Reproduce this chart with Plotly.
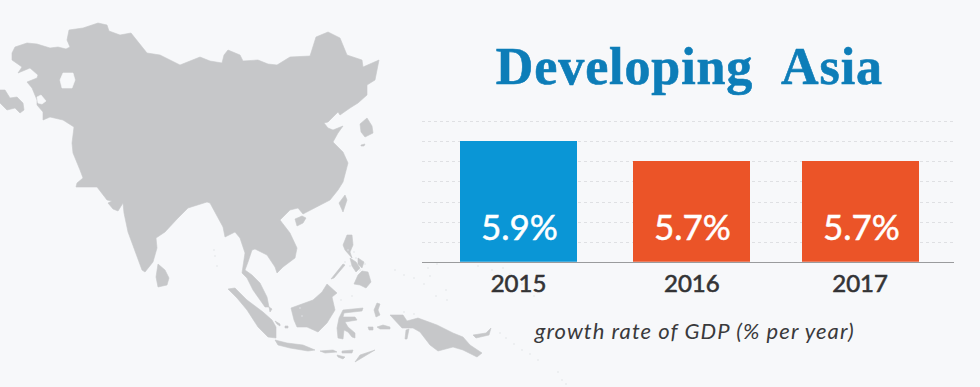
import plotly.graph_objects as go

# ---- chart data ----
years = ["2015", "2016", "2017"]
growth = [5.9, 5.7, 5.7]
bar_colors = ["#0a96d6", "#eb5428", "#eb5428"]
title_text = "Developing\u00a0\u00a0Asia"
caption_text = "growth rate of GDP (% per year)"

# slots of the three bars on the (slightly uneven) horizontal axis
slots = [0, 1.015, 2]

# ---- decorative silhouette, traced outlines in picture pixels ----
mainland = [(12,60),(12,53),(15,47),(27,43),(37,44),(50,48),(58,47),(66,49),(70,47),(67,40),(69,30),(83,28),(98,23),(107,25),(109,31),(120,35),(131,33),(138,42),(147,53),(160,55),(170,60),(180,65),(190,61),(200,57),(210,61),(222,63),(224,55),(228,50),(240,55),(243,61),(258,60),(268,64),(277,65),(290,57),(310,56),(312,50),(316,37),(328,32),(340,38),(347,55),(362,60),(363,67),(379,60),(375,80),(367,85),(367,95),(358,103),(350,108),(340,115),(338,112),(328,122),(324,123),(328,128),(333,130),(343,126),(338,133),(333,142),(343,152),(348,163),(343,182),(338,190),(330,200),(317,207),(303,214),(298,208),(290,210),(280,220),(290,233),(297,248),(295,258),(283,267),(277,273),(275,267),(267,255),(255,249),(252,250),(248,262),(245,270),(252,275),(260,283),(267,297),(269,307),(265,307),(253,290),(247,278),(242,273),(245,253),(240,238),(235,232),(225,237),(223,227),(215,212),(210,203),(207,202),(188,208),(178,218),(165,232),(156,238),(157,248),(153,262),(145,272),(142,270),(135,252),(128,232),(124,213),(123,203),(118,211),(113,209),(108,203),(112,201),(107,200),(102,193),(97,187),(87,187),(76,187),(77,183),(83,178),(80,170),(73,153),(72,143),(74,127),(63,120),(50,117),(43,120),(43,112),(37,105),(37,100),(32,88),(27,82),(37,78),(38,75),(30,68),(18,73),(22,67)]
turkey = [(0,90),(5,90),(10,98),(17,97),(23,103),(24,110),(20,113),(15,108),(7,110),(0,103)]
korea = [(360,124),(367,118),(372,126),(373,133),(365,137),(361,132)]
jeju = [(361,145),(365,144),(364,146),(361,146)]
hainan = [(295,219),(302,216),(306,218),(303,223),(297,226)]
taiwan = [(345,195),(347,200),(343,212),(339,203)]
sri_lanka = [(158,264),(165,270),(169,278),(167,285),(158,287),(156,277)]
luzon = [(347,235),(352,235),(353,245),(350,252),(352,258),(345,250),(343,245)]
visayas_a = [(350,258),(356,262),(360,268),(356,272),(352,266)]
visayas_b = [(358,258),(364,262),(362,268),(358,264)]
mindanao = [(358,275),(362,271),(368,272),(371,282),(366,288),(360,285),(354,284)]
palawan = [(343,264),(345,265),(334,278),(331,279)]
malaya_islet = [(269,307),(272,309),(270,312)]
sumatra = [(228,289),(235,288),(247,300),(263,312),(272,320),(276,327),(276,338),(268,337),(258,327),(247,310),(237,298)]
borneo = [(327,284),(337,293),(332,297),(335,310),(327,323),(318,332),(307,327),(297,327),(294,320),(291,308),(302,304),(313,300),(322,292)]
java = [(275,340),(287,343),(303,345),(315,350),(308,351),(290,348),(278,345)]
bali_lombok = [(320,351),(333,350),(337,352),(325,353)]
flores = [(342,351),(353,350),(352,353),(342,353)]
sumba = [(337,355),(345,357),(343,359),(338,357)]
timor = [(375,350),(367,355),(355,362),(360,355)]
bangka = [(275,321),(280,324),(280,326),(277,324)]
belitung = [(285,326),(288,326),(288,328),(285,328)]
sulawesi = [(363,308),(343,310),(339,318),(337,328),(338,338),(343,339),(344,330),(348,332),(352,337),(355,338),(355,333),(348,327),(345,322),(357,320),(355,317),(343,317),(344,313),(362,311)]
halmahera = [(377,303),(380,304),(378,310),(380,315),(376,317),(374,310)]
ceram = [(377,327),(383,325),(390,327),(390,329),(380,329)]
buru = [(368,327),(373,327),(373,330),(369,330)]
new_guinea = [(390,315),(403,315),(407,321),(418,318),(437,325),(453,333),(463,337),(470,345),(482,353),(477,357),(463,350),(453,347),(438,351),(430,345),(420,332),(413,328),(402,328),(396,321)]
aru = [(406,330),(409,329),(407,339),(405,339)]
new_britain = [(473,335),(486,333),(491,328),(489,335),(476,338)]
lands = [mainland, turkey, korea, jeju, hainan, taiwan, sri_lanka, luzon, visayas_a, visayas_b, mindanao, palawan, malaya_islet, sumatra, borneo, java, bali_lombok, flores, sumba, timor, bangka, belitung, sulawesi, halmahera, ceram, buru, new_guinea, aru, new_britain]

lake_a = [(60,80),(63,73),(73,73),(75,80),(72,88),(62,88)]
lake_b = [(37,97),(41,95),(46,101),(42,104),(38,103)]
lakes = [lake_a, lake_b]

specks_x = [214,215,217,345,350,356,360,348,354,365,404,414,428,430,437,446,470,478,492,500,506,514,522,530,538,395,404,414,424,436,447,503,510,522,534,540,558,562,566,300,302,341,352]
specks_y = [250,256,266,262,266,258,270,250,252,264,312,314,268,276,264,290,256,266,270,333,338,344,350,354,360,270,275,278,284,296,300,268,274,284,296,290,372,380,384,308,316,300,296]

BG = "#f7f8fa"
LAND = "#c6c7c9"

fig = go.Figure()


def poly_trace(polys, color):
    xs, ys = [], []
    for p in polys:
        xs += [q[0] for q in p] + [p[0][0], None]
        ys += [q[1] for q in p] + [p[0][1], None]
    return go.Scatter(x=xs, y=ys, mode="lines", fill="toself", fillcolor=color,
                      line=dict(color=color, width=0.6), hoverinfo="skip",
                      showlegend=False, xaxis="x", yaxis="y")


fig.add_trace(poly_trace(lands, LAND))
fig.add_trace(poly_trace(lakes, BG))
fig.add_trace(go.Scatter(x=specks_x, y=specks_y, mode="markers",
                         marker=dict(size=1.6, color="#e2e3e6"), hoverinfo="skip",
                         showlegend=False, xaxis="x", yaxis="y"))

fig.add_trace(go.Bar(x=slots, y=growth, width=0.685, marker=dict(color=bar_colors, line=dict(width=0)),
                     hoverinfo="skip", showlegend=False, xaxis="x2", yaxis="y2"))

W, H = 980, 387
AXIS_FLOOR = 4.71
annotations = [
    dict(text=f"<b>{title_text}</b>", xref="paper", yref="paper", x=689/W, y=1-67/H,
         xanchor="center", yanchor="middle", showarrow=False,
         font=dict(family="Liberation Serif", size=52, color="#0d7db8")),
    dict(text=f"<i>{caption_text}</i>", xref="paper", yref="paper", x=694/W, y=1-330/H,
         xanchor="center", yanchor="middle", showarrow=False,
         font=dict(family="Lato", size=22, color="#3a3a3c")),
]
for s, v in zip(slots, growth):
    annotations.append(dict(text=f"{v}%", xref="x2", yref="y2", x=s, y=AXIS_FLOOR,
                            xanchor="center", yanchor="bottom", yshift=13, xshift=1, showarrow=False,
                            font=dict(family="Lato", size=35, color="white")))

fig.update_layout(
    width=W, height=H, autosize=False,
    margin=dict(l=0, r=0, t=0, b=0),
    paper_bgcolor=BG, plot_bgcolor="rgba(0,0,0,0)",
    xaxis=dict(domain=[0, 1], range=[0, W], visible=False, fixedrange=True),
    yaxis=dict(domain=[0, 1], range=[H, 0], visible=False, fixedrange=True),
    xaxis2=dict(domain=[422/W, 954/W], range=[-0.565, 2.55], anchor="y2", tickmode="array",
                tickvals=slots, ticktext=years, showgrid=False, zeroline=False,
                showline=True, linecolor="#9a9b9d", linewidth=1,
                ticks="", tickfont=dict(family="Lato", size=24, color="#333335"), fixedrange=True),
    yaxis2=dict(domain=[1-261.7/H, 1-120.3/H], range=[AXIS_FLOOR, AXIS_FLOOR+1.4], anchor="x2", tick0=4.7,
                dtick=0.2, showticklabels=False, showgrid=True, gridcolor="#dfe0e3",
                griddash="3px,3px", gridwidth=1, zeroline=False, showline=False, ticks="", fixedrange=True),
    annotations=annotations,
    bargap=0,
)

page_fix = """
document.documentElement.style.margin = '0';
document.body.style.margin = '0';
document.body.style.background = '#f7f8fa';
document.querySelectorAll('.annotation-text').forEach(function (t) {
  var s = t.textContent;
  if (s.indexOf('growth') === 0) { t.style.letterSpacing = '1.05px'; }
  if (s.indexOf('Developing') === 0) {
    t.style.letterSpacing = '0.9px'; t.style.stroke = '#0d7db8'; t.style.strokeWidth = '0.6px';
  }
  if (s.indexOf('%') === 3) { t.style.stroke = '#ffffff'; t.style.strokeWidth = '0.5px'; }
});
document.querySelectorAll('.x2tick text').forEach(function (t) {
  t.style.stroke = '#333335'; t.style.strokeWidth = '0.6px';
});
"""
fig.write_html("out.html", config=dict(displayModeBar=False), post_script=page_fix)
